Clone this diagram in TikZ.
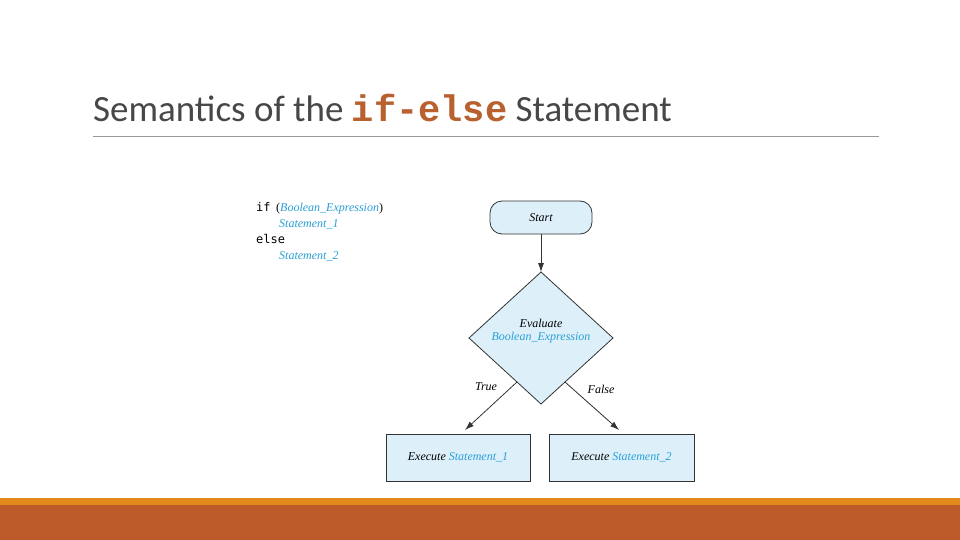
\documentclass[tikz,border=0pt]{standalone}
\usepackage{fontspec}
\setmainfont{Liberation Serif}
\newfontfamily\titlefont{Carlito}
\newfontfamily\codefont{Liberation Mono}
\newfontfamily\dvfont{DejaVu Sans Mono}
\usetikzlibrary{arrows.meta}
\definecolor{fillb}{HTML}{DDF0FA}
\definecolor{txtb}{HTML}{2A9FD6}
\definecolor{kw}{HTML}{B8602E}
\definecolor{rust}{HTML}{BC5A2A}
\definecolor{orng}{HTML}{E2891C}
\begin{document}
\begin{tikzpicture}[x=1pt,y=-1pt,
  shp/.style={draw=black!80,fill=fillb,line width=0.8pt},
  lbl/.style={font=\itshape\fontsize{12}{14}\selectfont},
  arr/.style={-{Latex[length=9pt,width=6pt]},black!80,line width=0.8pt}]
\useasboundingbox (0,0) rectangle (960,540);
\fill[white] (0,0) rectangle (960,540);
\fill[orng] (0,498) rectangle (960,505);
\fill[rust] (0,505) rectangle (960,540);
\node[anchor=base west,inner sep=0,font=\titlefont\fontsize{37}{40}\selectfont,text=black!72] (title) at (93,122)
  {Semantics of the {\codefont\bfseries\color{kw}if-else} Statement};
\draw[black!40,line width=0.8pt] (93,136) -- (879,136);
% code
\node[anchor=base west,inner sep=0,font=\dvfont\fontsize{12}{14}\selectfont] (c1) at (256,211) {if};
\node[anchor=base west,inner sep=0,lbl,text=txtb] (c1b) at (276,211) {\upshape\color{black}(\itshape\color{txtb}Boolean\_Expression\upshape\color{black})};
\node[anchor=base west,inner sep=0,lbl,text=txtb] (c2) at (279,227) {Statement\_1};
\node[anchor=base west,inner sep=0,font=\dvfont\fontsize{12}{14}\selectfont] (c3) at (256,243) {else};
\node[anchor=base west,inner sep=0,lbl,text=txtb] (c4) at (279,259) {Statement\_2};
% flowchart
\node[shp,rounded corners=12pt,minimum width=102pt,minimum height=33pt,lbl] (start) at (541,217.5) {Start};
\draw[shp] (541,272) coordinate (dtop) -- (613,338) -- (541,404) -- (469,338) -- cycle;
\node[lbl,align=center] (dia) at (541,331) {Evaluate\\[-1pt]\textcolor{txtb}{Boolean\_Expression}};
\node[shp,minimum width=144pt,minimum height=47pt,lbl] (s1) at (458,457.5) {Execute \textcolor{txtb}{Statement\_1}};
\node[shp,minimum width=145pt,minimum height=47pt,lbl] (s2) at (621.5,457.5) {Execute \textcolor{txtb}{Statement\_2}};
\coordinate (dl) at (517,382);
\coordinate (dr) at (565,382);
\coordinate (tl) at (465,430);
\coordinate (tr) at (619,430);
\draw[arr] (start) -- (dtop);
\draw[arr] (dl) -- (tl);
\draw[arr] (dr) -- (tr);
\node[lbl] (t) at (486,387) {True};
\node[lbl] (f) at (601,389) {False};
\end{tikzpicture}
\end{document}
